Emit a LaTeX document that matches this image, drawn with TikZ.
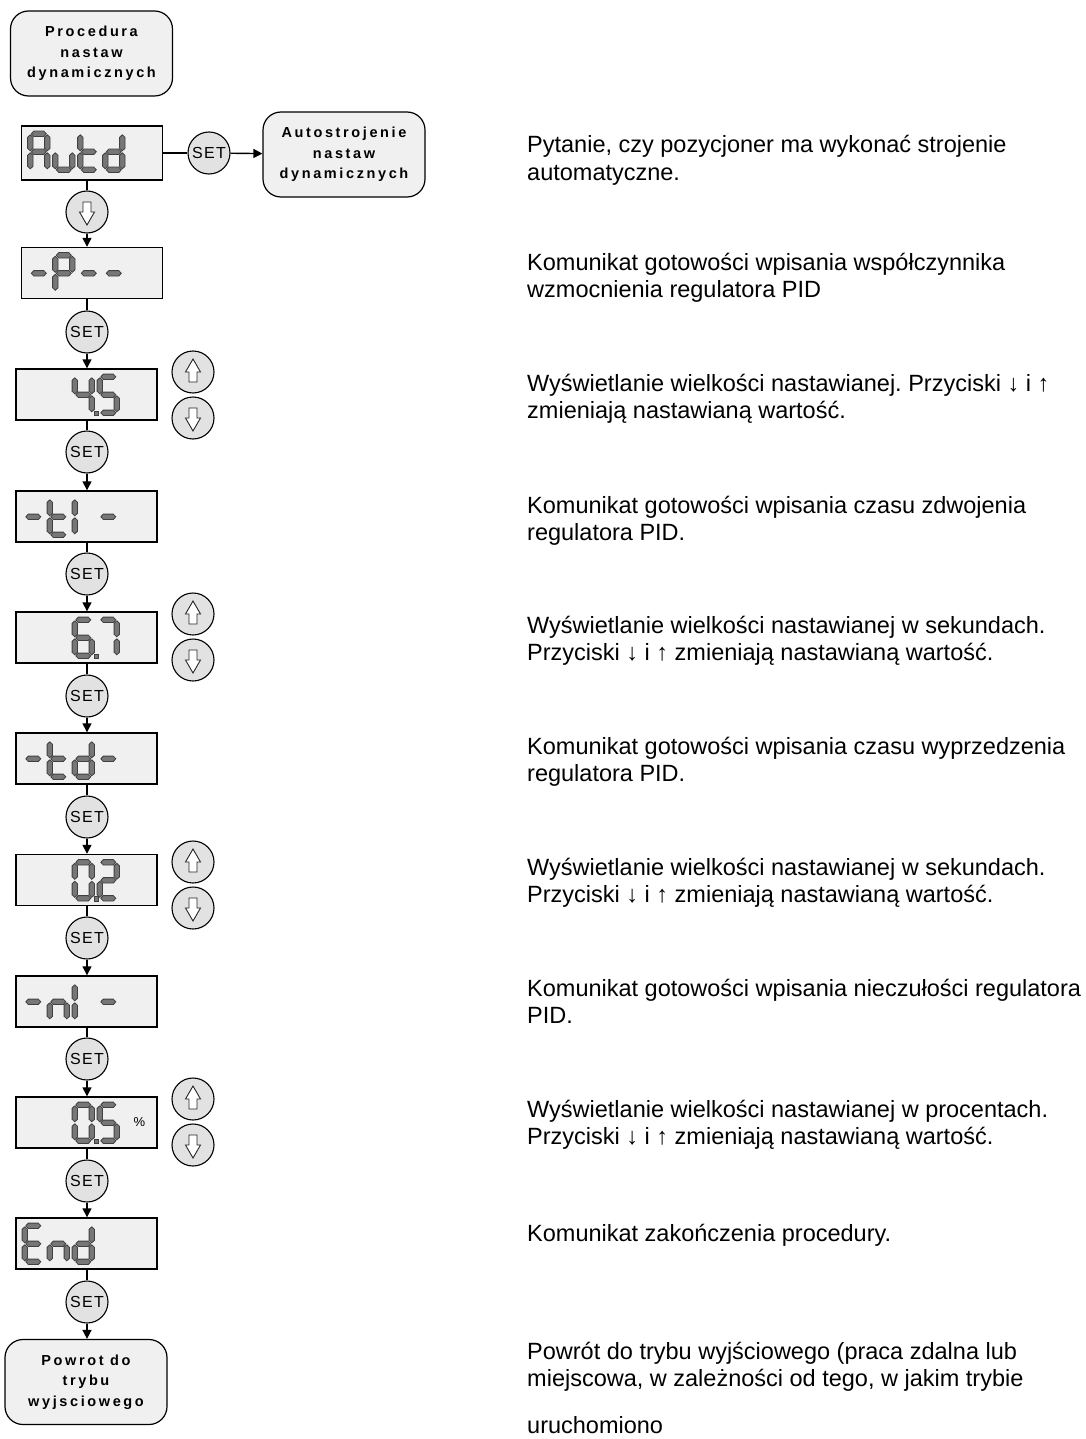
\documentclass[tikz,border=0pt]{standalone}
\usepackage{fontspec}
\setmainfont{Liberation Sans}
\usetikzlibrary{arrows.meta,positioning}

\definecolor{panel}{HTML}{F0F0F0}
\definecolor{knob}{HTML}{E2E2E2}
\definecolor{segfill}{HTML}{777777}
\definecolor{segline}{HTML}{404040}

% segmenty wyswietlacza
\newcommand\lcdsega[1]{\pic at (#1,8.5) {hbar};}
\newcommand\lcdsegb[1]{\pic at ({#1+17},8.5) {vbar};}
\newcommand\lcdsegc[1]{\pic at ({#1+17},26.5) {vbar};}
\newcommand\lcdsegd[1]{\pic at (#1,44.5) {hbar};}
\newcommand\lcdsege[1]{\pic at (#1,26.5) {vbar};}
\newcommand\lcdsegf[1]{\pic at (#1,8.5) {vbar};}
\newcommand\lcdsegg[1]{\pic at (#1,26.5) {hbar};}
\newcommand\lcdsegp[1]{\path[segment] ({#1+19.5},43) rectangle ++(4.5,4.5);}
\newcommand\lcd[2]{\foreach \s in {#2}{\csname lcdseg\s\endcsname{#1}}}

\tikzset{
  segment/.style={fill=segfill, draw=segline, line width=0.8pt},
  hbar/.pic={\path[segment] (1,0) -- (3.5,-2.7) -- (13.5,-2.7) -- (16,0) -- (13.5,2.7) -- (3.5,2.7) -- cycle;},
  vbar/.pic={\path[segment] (0,1) -- (2.7,3.5) -- (2.7,14.5) -- (0,17) -- (-2.7,14.5) -- (-2.7,3.5) -- cycle;},
  uparrow/.pic={\filldraw[fill=white, draw=black!85, line width=0.9pt] (0,-13) -- (7.5,0) -- (4,0) -- (4,10) -- (-4,10) -- (-4,0) -- (-7.5,0) -- cycle;},
  downarrow/.pic={\filldraw[fill=white, draw=black!85, line width=0.9pt] (0,13) -- (7.5,0) -- (4,0) -- (4,-10) -- (-4,-10) -- (-4,0) -- (-7.5,0) -- cycle;},
  display/.style={draw, line width=1.4pt, fill=panel, minimum width=141pt, minimum height=51pt, inner sep=0pt},
  setkey/.style={circle, draw, line width=1.1pt, fill=knob, minimum size=42pt, inner sep=0pt,
    font=\fontsize{16}{16}\selectfont\addfontfeature{LetterSpace=8}},
  arrowkey/.style={circle, draw, line width=1.1pt, fill=knob, minimum size=42pt, inner sep=0pt},
  terminal/.style={draw, line width=1.2pt, rounded corners=18pt, fill=panel, minimum width=162pt,
    minimum height=85pt, align=center, font=\fontsize{14.5}{20.5}\selectfont\bfseries\addfontfeature{LetterSpace=18}},
  note/.style={anchor=base west, align=left, inner sep=0pt, font=\fontsize{23.5}{27.5}\selectfont},
  flow/.style={line width=1.4pt, -{Triangle[length=9pt,width=9pt]}},
  link/.style={line width=1.4pt},
}

\begin{document}
\frenchspacing
\begin{tikzpicture}[x=1pt, y=-1pt]
    \useasboundingbox (0,0) rectangle (1085,1439);

    % poczatek procedury
    \node[terminal] (start) at (91.5,53.5) {Procedura\\nastaw\\dynamicznych};

    % Autd
    \node[display, minimum height=54pt] (autd) at (92,153) {};
    \node[setkey] (sauto) at (209,153) {SET};
    \node[terminal] (tune) at (344,154.5) {Autostrojenie\\nastaw\\dynamicznych};
    \node[arrowkey] (skip) at (87,212) {};
    \pic at (skip) {downarrow};

    % wyswietlacze
    \node[display] (kp) at (92,273) {};
    \node[display] (kpval) at (86.5,394.5) {};
    \node[display] (ti) at (86.5,516.5) {};
    \node[display] (tival) at (86.5,637.5) {};
    \node[display] (td) at (86.5,758.5) {};
    \node[display] (tdval) at (86.5,880) {};
    \node[display] (ni) at (86.5,1001.5) {};
    \node[display] (nival) at (86.5,1122.5) {};
    \node[display] (fin) at (86.5,1243.5) {};
    \node[terminal] (back) at (86,1382) {Powrot do\\trybu\\wyjsciowego};

    % przyciski SET
    \node[setkey] (s1) at (87,332) {SET};
    \node[setkey] (s2) at (87,452) {SET};
    \node[setkey] (s3) at (87,574) {SET};
    \node[setkey] (s4) at (87,696) {SET};
    \node[setkey] (s5) at (87,817) {SET};
    \node[setkey] (s6) at (87,938) {SET};
    \node[setkey] (s7) at (87,1059) {SET};
    \node[setkey] (s8) at (87,1181) {SET};
    \node[setkey] (s9) at (87,1302) {SET};

    % przyciski gora / dol
    \foreach \v/\y in {kpval/372, tival/614, tdval/862, nival/1099} {
        \node[arrowkey] (up-\v) at (193,\y) {};
        \pic at (up-\v) {uparrow};
        \node[arrowkey] (down-\v) at (193,\y+46) {};
        \pic at (down-\v) {downarrow};
    }

    % polaczenia
    \draw[link] (autd) -- (sauto);
    \draw[flow] (sauto) -- (tune);
    \draw[link] (autd.south -| skip) -- (skip);
    \draw[flow] (skip) -- (kp.north -| skip);
    \foreach \a/\k/\b in {kp/s1/kpval, kpval/s2/ti, ti/s3/tival, tival/s4/td, td/s5/tdval,
                          tdval/s6/ni, ni/s7/nival, nival/s8/fin, fin/s9/back} {
        \draw[link] (\a.south -| \k) -- (\k);
        \draw[flow] (\k) -- (\b.north -| \k);
    }

    % znaki na wyswietlaczach
    \begin{scope}[shift={(autd.north west)}]
        \lcd{9.5}{a,b,c,e,f,g} \lcd{34.5}{c,d,e} \lcd{59.5}{d,e,f,g} \lcd{84.5}{b,c,d,e,g}
    \end{scope}
    \begin{scope}[shift={(kp.north west)}]
        \lcd{9.5}{g} \lcd{34.5}{a,b,e,f,g} \lcd{59.5}{g} \lcd{84.5}{g}
    \end{scope}
    \begin{scope}[shift={(kpval.north west)}]
        \lcd{59.5}{b,c,f,g,p} \lcd{84.5}{a,c,d,f,g}
    \end{scope}
    \begin{scope}[shift={(ti.north west)}]
        \lcd{9.5}{g} \lcd{34.5}{d,e,f,g} \lcd{59.5}{e,f} \lcd{84.5}{g}
    \end{scope}
    \begin{scope}[shift={(tival.north west)}]
        \lcd{59.5}{a,c,d,e,f,g,p} \lcd{84.5}{a,b,c}
    \end{scope}
    \begin{scope}[shift={(td.north west)}]
        \lcd{9.5}{g} \lcd{34.5}{d,e,f,g} \lcd{59.5}{b,c,d,e,g} \lcd{84.5}{g}
    \end{scope}
    \begin{scope}[shift={(tdval.north west)}]
        \lcd{59.5}{a,b,c,d,e,f,p} \lcd{84.5}{a,b,d,e,g}
    \end{scope}
    \begin{scope}[shift={(ni.north west)}]
        \lcd{9.5}{g} \lcd{34.5}{c,e,g} \lcd{59.5}{e,f} \lcd{84.5}{g}
    \end{scope}
    \begin{scope}[shift={(nival.north west)}]
        \lcd{59.5}{a,b,c,d,e,f,p} \lcd{84.5}{a,c,d,f,g}
    \end{scope}
    \node[font=\fontsize{13}{13}\selectfont, inner sep=0pt] (pct) at (139.5,1122) {\%};
    \begin{scope}[shift={(fin.north west)}]
        \lcd{9.5}{a,d,e,f,g} \lcd{34.5}{c,e,g} \lcd{59.5}{b,c,d,e,g}
    \end{scope}

    % opisy (kotwica = linia bazowa ostatniego wiersza)
    \node[note] (n1) at (527,180.5) {Pytanie, czy pozycjoner ma wykonać strojenie\\automatyczne.};
    \node[note] (n2) at (527,297.5) {Komunikat gotowości wpisania współczynnika\\wzmocnienia regulatora PID};
    \node[note] (n3) at (527,418.5) {Wyświetlanie wielkości nastawianej. Przyciski ↓ i ↑\\zmieniają nastawianą wartość.};
    \node[note] (n4) at (527,540.5) {Komunikat gotowości wpisania czasu zdwojenia\\regulatora PID.};
    \node[note] (n5) at (527,660.5) {Wyświetlanie wielkości nastawianej w sekundach.\\Przyciski ↓ i ↑ zmieniają nastawianą wartość.};
    \node[note] (n6) at (527,781.5) {Komunikat gotowości wpisania czasu wyprzedzenia\\regulatora PID.};
    \node[note] (n7) at (527,902.5) {Wyświetlanie wielkości nastawianej w sekundach.\\Przyciski ↓ i ↑ zmieniają nastawianą wartość.};
    \node[note] (n8) at (527,1023.5) {Komunikat gotowości wpisania nieczułości regulatora\\PID.};
    \node[note] (n9) at (527,1144.5) {Wyświetlanie wielkości nastawianej w procentach.\\Przyciski ↓ i ↑ zmieniają nastawianą wartość.};
    \node[note] (n10) at (527,1241) {Komunikat zakończenia procedury.};
    \node[note] (n11) at (527,1433) {Powrót do trybu wyjściowego (praca zdalna lub\\miejscowa, w zależności od tego, w jakim trybie\\[19pt]uruchomiono};
\end{tikzpicture}
\end{document}
